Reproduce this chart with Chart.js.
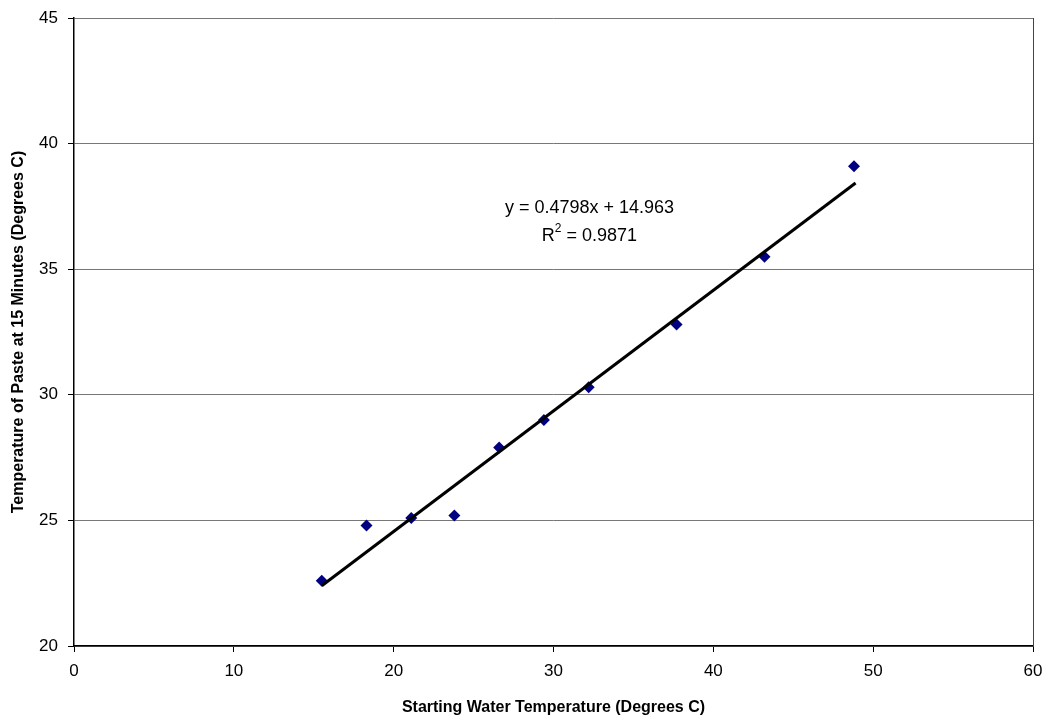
<!DOCTYPE html>
<html>
<head>
<meta charset="utf-8">
<script src="https://cdn.jsdelivr.net/npm/chart.js@4"></script>
<style>
  html, body { margin: 0; padding: 0; background: #fff; }
  #wrap { width: 1049px; height: 721px; }
</style>
</head>
<body>
<div id="wrap"><canvas id="tempChart" width="1049" height="721"></canvas></div>
<script>
// measured points: starting water temp vs paste temp at 15 min
const waterTemp = [15.5, 18.3, 21.1, 23.8, 26.6, 29.4, 32.2, 37.7, 43.2, 48.8];
const pasteTemp = [22.6, 24.8, 25.1, 25.2, 27.9, 29.0, 30.3, 32.8, 35.5, 39.1];

// linear trendline endpoints (from y = 0.4798x + 14.963)
const trendX = [15.5, 48.9];
const trendY = [22.40, 38.43];

const xTicks = [0, 10, 20, 30, 40, 50, 60];
const yTicks = [20, 25, 30, 35, 40, 45];

const eqText = 'y = 0.4798x + 14.963';
const r2Value = '0.9871';
const eqAt = { x: 32.25, y: [37.45, 36.33] };

const fontFamily = '"Liberation Sans", Arial, sans-serif';

const borderPlugin = {
  id: 'plotBorder',
  afterDraw(chart) {
    const a = chart.chartArea, c = chart.ctx;
    c.save();
    c.strokeStyle = '#444';
    c.lineWidth = 1;
    c.beginPath();
    c.moveTo(a.right + 0.5, a.top);
    c.lineTo(a.right + 0.5, a.bottom);
    c.stroke();

    // equation label, R² drawn with a real superscript
    const xs = chart.scales.x, ys = chart.scales.y;
    const px = xs.getPixelForValue(eqAt.x);
    c.fillStyle = '#000';
    c.font = '18px ' + fontFamily;
    c.textAlign = 'center';
    c.textBaseline = 'middle';
    c.fillText(eqText, px, ys.getPixelForValue(eqAt.y[0]));

    const y2 = ys.getPixelForValue(eqAt.y[1]);
    const rest = ' = ' + r2Value;
    c.font = '18px ' + fontFamily;
    const wR = c.measureText('R').width;
    const wRest = c.measureText(rest).width;
    c.font = '12px ' + fontFamily;
    const wSup = c.measureText('2').width;
    let x0 = px - (wR + wSup + wRest) / 2;
    c.textAlign = 'left';
    c.font = '18px ' + fontFamily;
    c.fillText('R', x0, y2);
    c.font = '12px ' + fontFamily;
    c.fillText('2', x0 + wR, y2 - 7);
    c.font = '18px ' + fontFamily;
    c.fillText(rest, x0 + wR + wSup, y2);
    c.restore();
  }
};

const ctx = document.getElementById('tempChart').getContext('2d');
new Chart(ctx, {
  type: 'scatter',
  data: {
    datasets: [
      {
        label: 'Data',
        data: waterTemp.map((x, i) => ({ x: x, y: pasteTemp[i] })),
        pointStyle: 'rectRot',
        pointRadius: 6,
        backgroundColor: '#000080',
        borderColor: '#000080',
        borderWidth: 0,
        order: 2
      },
      {
        label: 'Trend',
        type: 'line',
        data: trendX.map((x, i) => ({ x: x, y: trendY[i] })),
        borderColor: '#000',
        borderWidth: 3,
        pointRadius: 0,
        fill: false,
        order: 1
      }
    ]
  },
  options: {
    responsive: false,
    animation: false,
    layout: { autoPadding: false, padding: { top: 18, right: 16, left: 0, bottom: 0 } },
    plugins: {
      legend: { display: false },
      tooltip: { enabled: false }
    },
    scales: {
      x: {
        type: 'linear',
        min: 0,
        max: 60,
        afterBuildTicks: axis => { axis.ticks = xTicks.map(v => ({ value: v })); },
        afterFit: axis => { axis.height = 75; axis.paddingLeft = 0; axis.paddingRight = 0; },
        grid: { drawOnChartArea: false, tickLength: 6, tickColor: '#000' },
        border: { color: '#000', width: 1.5 },
        ticks: { color: '#000', font: { family: fontFamily, size: 17 }, padding: 9 },
        title: {
          display: true,
          text: 'Starting Water Temperature (Degrees C)',
          color: '#000',
          font: { family: fontFamily, size: 16, weight: 'bold' },
          padding: { top: 4 }
        }
      },
      y: {
        type: 'linear',
        min: 20,
        max: 45,
        afterBuildTicks: axis => { axis.ticks = yTicks.map(v => ({ value: v })); },
        afterFit: axis => { axis.width = 74; axis.paddingTop = 0; axis.paddingBottom = 0; },
        grid: { color: '#777', tickLength: 6, tickColor: '#000' },
        border: { color: '#000', width: 1.5 },
        ticks: { color: '#000', font: { family: fontFamily, size: 17 }, padding: 10 },
        title: {
          display: true,
          text: 'Temperature of Paste at 15 Minutes (Degrees C)',
          color: '#000',
          font: { family: fontFamily, size: 16, weight: 'bold' },
          padding: { top: 9, bottom: 0 }
        }
      }
    }
  },
  plugins: [borderPlugin]
});
</script>
</body>
</html>
